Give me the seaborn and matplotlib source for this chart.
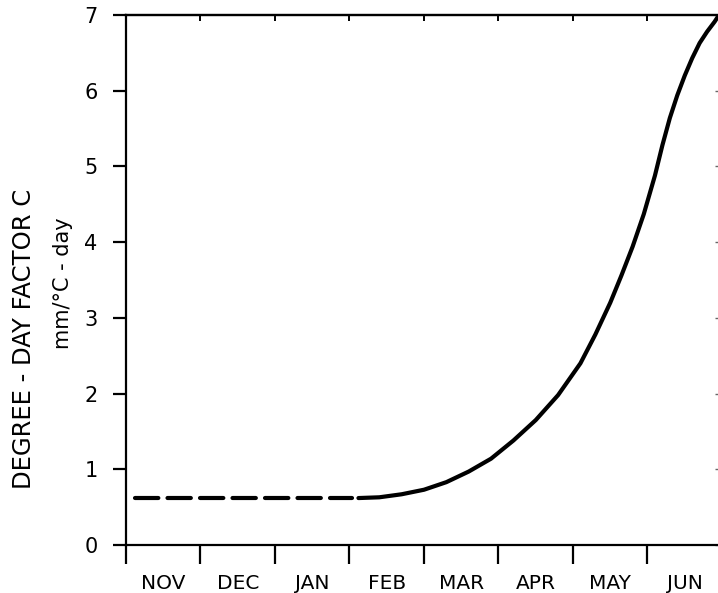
import matplotlib
matplotlib.use("Agg")
import matplotlib.pyplot as plt
import seaborn as sns
import pandas as pd
import numpy as np

# Degree-day factor through the melt season (months counted from 1 November)
months = ["NOV", "DEC", "JAN", "FEB", "MAR", "APR", "MAY", "JUN"]

# winter constant value (dashed)
winter_t = [0.12, 3.04]
winter_c = [0.62, 0.62]

# spring rise (solid)
spring_t = [3.12, 3.40, 3.70, 4.00, 4.30, 4.60, 4.90, 5.20, 5.50, 5.80,
            6.10, 6.30, 6.50, 6.65, 6.80, 6.95, 7.10, 7.20, 7.30, 7.40,
            7.50, 7.60, 7.70, 7.80, 7.90, 7.96]
spring_c = [0.62, 0.63, 0.67, 0.73, 0.83, 0.97, 1.14, 1.38, 1.65, 1.98,
            2.40, 2.78, 3.20, 3.56, 3.94, 4.37, 4.88, 5.28, 5.64, 5.94,
            6.20, 6.43, 6.63, 6.78, 6.91, 7.00]

winter = pd.DataFrame({"t": winter_t, "c": winter_c})
spring = pd.DataFrame({"t": spring_t, "c": spring_c})

sns.set_style("ticks")
plt.rcParams["font.family"] = ["DejaVu Sans"]
plt.rcParams["text.color"] = "black"
plt.rcParams["xtick.color"] = "black"
plt.rcParams["ytick.color"] = "black"

W, H = 718, 593
fig = plt.figure(figsize=(W / 100, H / 100), dpi=100)
# right spine sits just past the figure edge
ax = fig.add_axes([126 / W, (H - 545) / H, (722 - 126) / W, (545 - 15) / H])

sns.lineplot(data=winter, x="t", y="c", ax=ax, color="black", lw=3.0,
             linestyle=(0, (5.6, 2.2)))
ax.lines[-1].set_dash_capstyle("round")
sns.lineplot(data=spring, x="t", y="c", ax=ax, color="black", lw=3.0,
             solid_joinstyle="round", solid_capstyle="round")

ax.set_xlim(0, 8)
ax.set_ylim(0, 7)

for s in ax.spines.values():
    s.set_linewidth(1.6)
    s.set_color("black")

# month boundaries as major ticks, month names on minor ticks
ax.set_xticks(np.arange(0, 9))
ax.set_xticklabels([])
ax.set_xticks(np.arange(0.5, 8), minor=True)
ax.set_xticklabels(months, minor=True, fontsize=14.5)
ax.tick_params(axis="x", which="major", direction="out", length=14,
               width=1.6, top=False)
ax.tick_params(axis="x", which="minor", length=0, pad=21, top=False)

ax.set_yticks(np.arange(0, 8))
ax.set_yticklabels([str(v) for v in range(8)], fontsize=15)
ax.tick_params(axis="y", direction="out", length=9.5, width=1.6, pad=11,
               right=False)

# short inward ticks on the top and right frame
ax_top = ax.secondary_xaxis("top")
ax_top.set_xticks(np.arange(0, 9))
ax_top.set_xticklabels([])
ax_top.tick_params(direction="in", length=4.5, width=1.4)
ax_top.spines["top"].set_linewidth(1.6)
ax_r = ax.secondary_yaxis("right")
ax_r.set_yticks(np.arange(0, 8))
ax_r.set_yticklabels([])
ax_r.tick_params(direction="in", length=5, width=1.0, color="#666666")

ax.set_xlabel("")
ax.set_ylabel("")

fig.text(24 / W, 1 - 339 / H, "DEGREE - DAY FACTOR C", rotation=90,
         ha="center", va="center", fontsize=17.5)
fig.text(63 / W, 1 - 283 / H, "mm/°C - day", rotation=90,
         ha="center", va="center", fontsize=15)

fig.savefig("out.png", dpi=100, facecolor="white")
